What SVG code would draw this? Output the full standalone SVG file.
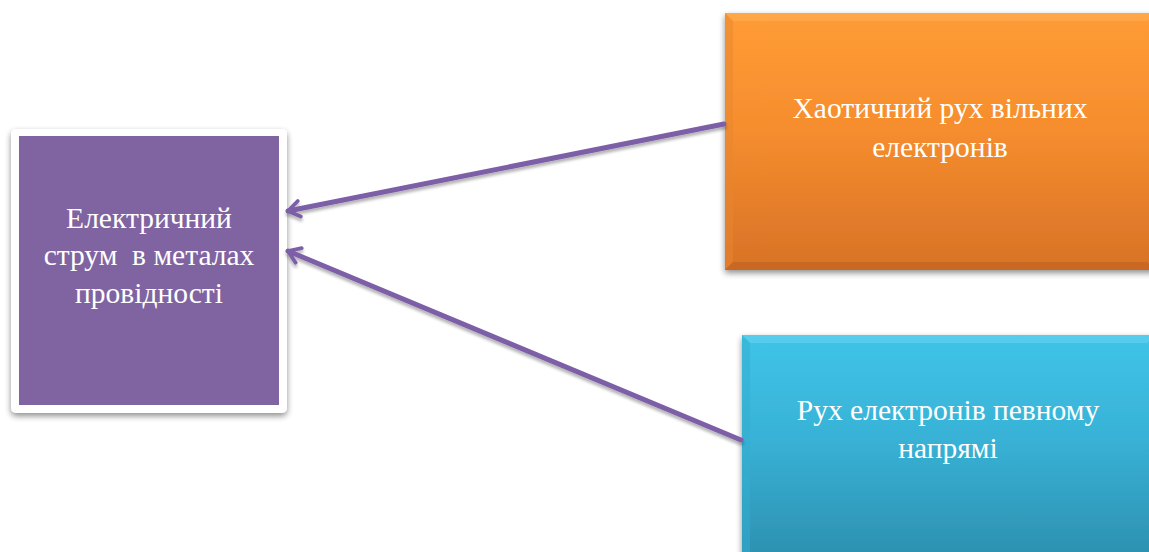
<svg xmlns="http://www.w3.org/2000/svg" width="1149" height="552" viewBox="0 0 1149 552">
  <defs>
    <linearGradient id="gOrange" x1="0" y1="0" x2="0" y2="1">
      <stop offset="0" stop-color="#FF9C35"/>
      <stop offset="0.45" stop-color="#F68D2E"/>
      <stop offset="1" stop-color="#D87227"/>
    </linearGradient>
    <linearGradient id="gBlue" x1="0" y1="0" x2="0" y2="1">
      <stop offset="0" stop-color="#3FC4E8"/>
      <stop offset="0.45" stop-color="#38B2D6"/>
      <stop offset="1" stop-color="#2C8EAE"/>
    </linearGradient>
    <filter id="shadow" x="-10%" y="-10%" width="120%" height="125%">
      <feGaussianBlur in="SourceAlpha" stdDeviation="3"/>
      <feOffset dx="0" dy="3" result="b"/>
      <feComponentTransfer><feFuncA type="linear" slope="0.45"/></feComponentTransfer>
      <feMerge><feMergeNode/><feMergeNode in="SourceGraphic"/></feMerge>
    </filter>
    <filter id="lineShadow" x="-5%" y="-20%" width="110%" height="140%">
      <feGaussianBlur in="SourceAlpha" stdDeviation="1.5"/>
      <feOffset dx="0" dy="3" result="b"/>
      <feComponentTransfer><feFuncA type="linear" slope="0.3"/></feComponentTransfer>
      <feMerge><feMergeNode/><feMergeNode in="SourceGraphic"/></feMerge>
    </filter>
    <!-- open chevron head, tip at the end of the line -->
    <marker id="arrow" viewBox="0 0 20 20" refX="18" refY="10" markerWidth="4.2" markerHeight="4.2" markerUnits="strokeWidth" orient="auto">
      <path d="M7,2.5 L18,10 L7,17.5" fill="none" stroke="#7B5EA7" stroke-width="3.6" stroke-linecap="round" stroke-linejoin="round"/>
    </marker>
    <style>
      .lbl { font-family: "Liberation Serif", "Times New Roman", serif; font-size: 29.5px; fill: #FFFFFF; text-anchor: middle; }
      .conn { stroke: #7B5EA7; stroke-width: 5; fill: none; stroke-linecap: round; }
    </style>
  </defs>

  <rect width="1149" height="552" fill="#FFFFFF"/>

  <!-- left node: purple square inside a white frame -->
  <g id="node-current">
    <rect x="11" y="129" width="276" height="284" rx="5" fill="#FFFFFF" filter="url(#shadow)"/>
    <rect x="19" y="136" width="260" height="269" fill="#8064A2"/>
    <text class="lbl" x="149" y="228">Електричний</text>
    <text class="lbl" x="149" y="265" xml:space="preserve">струм  в металах</text>
    <text class="lbl" x="149" y="303">провідності</text>
  </g>

  <!-- top-right node: orange bevelled box -->
  <g id="node-chaotic">
    <rect x="725" y="13" width="430" height="257" fill="url(#gOrange)" filter="url(#shadow)"/>
    <polygon points="725,13 1155,13 1147,21 733,21" fill="#FFB35C" opacity="0.5"/>
    <polygon points="725,13 733,21 733,262 725,270" fill="#E88530" opacity="0.5"/>
    <polygon points="725,270 733,262 1147,262 1155,270" fill="#B75E1E" opacity="0.5"/>
    <text class="lbl" x="940" y="118">Хаотичний рух вільних</text>
    <text class="lbl" x="940" y="157">електронів</text>
  </g>

  <!-- bottom-right node: blue bevelled box -->
  <g id="node-directed">
    <rect x="742" y="335" width="413" height="230" fill="url(#gBlue)" filter="url(#shadow)"/>
    <polygon points="742,335 1155,335 1147,343 750,343" fill="#6ED6F2" opacity="0.5"/>
    <polygon points="742,335 750,343 750,560 742,560" fill="#34AED0" opacity="0.5"/>
    <text class="lbl" x="948" y="420">Рух електронів певному</text>
    <text class="lbl" x="948" y="458">напрямі</text>
  </g>

  <!-- connectors -->
  <g id="connectors" filter="url(#lineShadow)">
    <line class="conn" x1="724" y1="124" x2="288" y2="211" marker-end="url(#arrow)"/>
    <line class="conn" x1="741" y1="440" x2="288" y2="251" marker-end="url(#arrow)"/>
  </g>
</svg>
